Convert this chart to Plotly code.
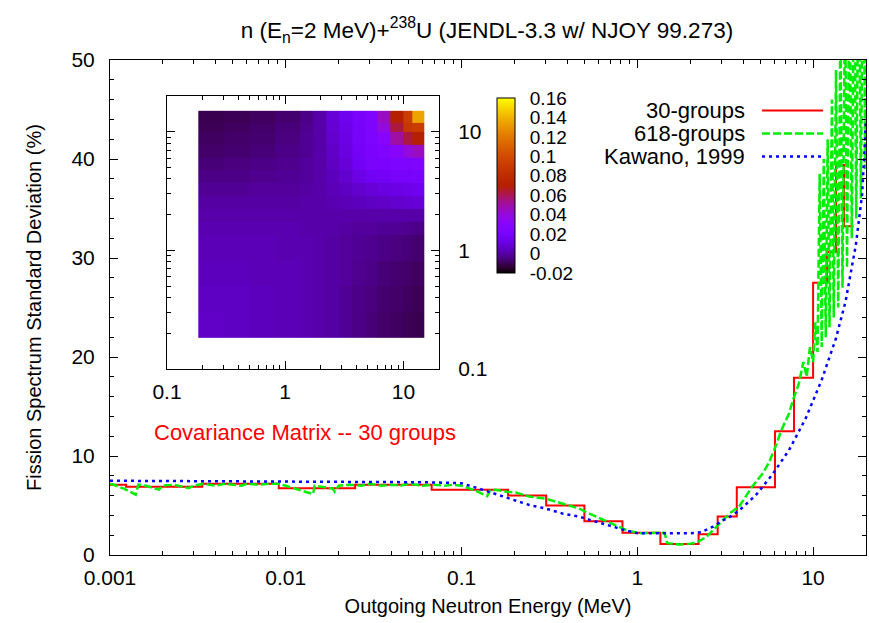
import math
import plotly.graph_objects as go

# ---------------- data ----------------
# 30-group result (group boundaries in MeV, value per group in %)
red_edges = [0.000454, 0.001235, 0.00335, 0.00912, 0.0248, 0.0676, 0.184, 0.303, 0.5, 0.823,
             1.353, 1.738, 2.232, 2.865, 3.68, 6.07, 7.79, 10.0, 12.0, 13.5, 15.0, 17.0]
red_values = [7.1, 6.9, 7.2, 6.75, 7.1, 6.6, 6.0, 5.0, 3.4, 2.25,
              1.1, 1.1, 2.1, 3.9, 6.85, 12.5, 17.9, 27.5, 30.6, 39.4, 33.2]

# 618-group result
green_e = [0.001, 0.00105, 0.0012, 0.0014, 0.00145, 0.0016, 0.0018, 0.0019, 0.002, 0.0023,
           0.0026, 0.0028, 0.003, 0.0034, 0.004, 0.0045, 0.005, 0.0056, 0.006, 0.007,
           0.008, 0.009, 0.01, 0.012, 0.0143, 0.0146, 0.016, 0.0185, 0.019, 0.02,
           0.023, 0.027, 0.03, 0.035, 0.04, 0.045, 0.05, 0.06, 0.07, 0.08,
           0.09, 0.1, 0.12, 0.14, 0.145, 0.155, 0.18, 0.205, 0.243, 0.3,
           0.373, 0.466, 0.53, 0.58, 0.72, 0.87, 1.03, 1.2, 1.43, 1.48,
           1.74, 2.0, 2.17, 2.48, 2.7, 3.06, 3.35, 3.8, 4.5, 5.1,
           5.6, 6.1, 6.6, 7.3, 7.7, 8.3, 8.8, 9.2, 9.6, 10.0,
           10.3, 10.6, 10.9, 11.2, 11.5, 11.8, 12.1, 12.4, 12.8, 13.1,
           13.5, 13.9, 14.3, 14.7, 15.2, 15.6, 16.1, 16.6, 17.1, 17.6,
           18.2, 18.7, 19.3, 19.8, 20.0]
green_v = [7.2, 7.1, 6.7, 6.1, 7.1, 7.0, 6.7, 6.6, 7.0, 7.1,
           6.9, 6.75, 7.0, 7.2, 7.0, 7.2, 7.1, 7.0, 7.2, 7.1,
           7.2, 7.2, 7.0, 6.6, 6.15, 7.0, 6.9, 6.7, 6.4, 7.0,
           7.1, 7.0, 7.2, 7.0, 7.1, 7.0, 7.2, 7.0, 7.1, 7.0,
           7.1, 7.0, 6.5, 5.95, 6.5, 6.6, 6.4, 6.3, 5.9, 5.7,
           5.2, 4.7, 4.2, 3.9, 3.2, 2.5, 2.2, 2.2, 2.25, 1.2,
           1.05, 1.15, 1.25, 1.85, 2.5, 3.5, 4.2, 4.9, 6.9, 8.1,
           9.3, 10.9, 12.6, 14.3, 15.7, 17.3, 19.5, 18.0, 21.0, 19.5,
           23.5, 20.5, 38.5, 21.0, 40.0, 22.0, 42.0, 23.0, 46.0, 24.0,
           49.0, 25.0, 54.0, 27.0, 57.0, 29.0, 60.0, 32.0, 62.0, 34.0,
           65.0, 36.0, 67.0, 39.0, 62.0]

# Kawano, 1999
blue_e = [0.001, 0.01, 0.03, 0.06, 0.08, 0.1, 0.126, 0.164, 0.195, 0.243,
          0.3, 0.374, 0.466, 0.58, 0.72, 0.87, 1.0, 1.5, 2.0, 2.3,
          2.7, 3.0, 3.4, 3.8, 4.73, 5.85, 7.3, 9.08, 11.2, 13.5,
          15.3, 17.5, 19.0, 19.5, 20.0]
blue_v = [7.5, 7.45, 7.4, 7.35, 7.3, 7.25, 6.7, 6.06, 5.6, 5.05,
          4.7, 4.2, 3.87, 3.37, 2.86, 2.46, 2.2, 2.2, 2.2, 2.3,
          2.86, 3.4, 3.9, 4.5, 6.06, 8.1, 10.6, 13.8, 17.7, 21.9,
          25.6, 31.3, 36.4, 40.0, 44.0]

# covariance matrix (inset), cell edges in MeV
cov_edges = [0.184, 0.303, 0.5, 0.823, 1.353, 1.738, 2.232, 2.865, 3.68, 4.8,
             6.07, 7.79, 10.0, 12.0, 15.0]
cov = [
    [0.006, 0.005, 0.004, 0.003, 0.002, 0.001, 0.000, -0.002, -0.004, -0.006, -0.008, -0.009, -0.010, -0.011],
    [0.005, 0.005, 0.004, 0.003, 0.002, 0.001, 0.000, -0.002, -0.004, -0.005, -0.007, -0.008, -0.009, -0.010],
    [0.004, 0.004, 0.003, 0.003, 0.002, 0.001, 0.000, -0.001, -0.003, -0.004, -0.006, -0.007, -0.008, -0.009],
    [0.003, 0.003, 0.003, 0.002, 0.002, 0.001, 0.000, -0.001, -0.002, -0.003, -0.004, -0.005, -0.006, -0.007],
    [0.002, 0.002, 0.002, 0.002, 0.001, 0.001, 0.001, 0.000, -0.001, -0.001, -0.002, -0.002, -0.003, -0.004],
    [0.001, 0.001, 0.001, 0.001, 0.001, 0.001, 0.001, 0.001, 0.001, 0.001, 0.001, 0.001, 0.001, 0.001],
    [0.000, 0.000, 0.000, 0.000, 0.001, 0.001, 0.002, 0.003, 0.004, 0.005, 0.006, 0.007, 0.008, 0.009],
    [-0.002, -0.002, -0.001, -0.001, 0.000, 0.001, 0.003, 0.005, 0.007, 0.009, 0.011, 0.012, 0.013, 0.015],
    [-0.004, -0.004, -0.003, -0.002, -0.001, 0.001, 0.004, 0.007, 0.012, 0.016, 0.018, 0.019, 0.020, 0.021],
    [-0.006, -0.005, -0.004, -0.003, -0.001, 0.001, 0.005, 0.009, 0.016, 0.021, 0.022, 0.023, 0.024, 0.025],
    [-0.008, -0.007, -0.006, -0.004, -0.002, 0.001, 0.006, 0.011, 0.018, 0.022, 0.025, 0.030, 0.040, 0.045],
    [-0.009, -0.008, -0.007, -0.005, -0.002, 0.001, 0.007, 0.012, 0.019, 0.023, 0.030, 0.050, 0.063, 0.070],
    [-0.010, -0.009, -0.008, -0.006, -0.003, 0.001, 0.008, 0.013, 0.020, 0.024, 0.040, 0.063, 0.088, 0.092],
    [-0.011, -0.010, -0.009, -0.007, -0.004, 0.001, 0.009, 0.015, 0.021, 0.025, 0.045, 0.070, 0.092, 0.135],
]

x_major = [0.001, 0.01, 0.1, 1, 10]
x_major_text = ["0.001", "0.01", "0.1", "1", "10"]
y_major = [0, 10, 20, 30, 40, 50]
inset_major = [0.1, 1, 10]
inset_major_text = ["0.1", "1", "10"]
cb_vals = [-0.02, 0.0, 0.02, 0.04, 0.06, 0.08, 0.1, 0.12, 0.14, 0.16]
cb_text = ["-0.02", "0", "0.02", "0.04", "0.06", "0.08", "0.1", "0.12", "0.14", "0.16"]

# ---------------- style helpers ----------------
FONT = "Liberation Sans, Arial, sans-serif"
FS = 21
W, H = 869, 623
ML, MR, MT, MB = 110, 3, 60, 68
PW, PH = W - ML - MR, H - MT - MB
CB_TOP, CB_BOT, CB_LEFT, CB_W = 98, 273, 497, 18
CMIN, CMAX = -0.02, 0.16


def px_x(px):
    return (px - ML) / PW


def px_y(py):
    return (H - MB - py) / PH


def gnuplot_pal(n=41):
    stops = []
    for i in range(n):
        t = i / (n - 1)
        r = math.sqrt(t)
        g = t ** 3
        b = max(0.0, min(1.0, math.sin(2 * math.pi * t)))
        stops.append([t, "rgb(%d,%d,%d)" % (round(r * 255), round(g * 255), round(b * 255))])
    return stops


def minor_log(lo_dec, hi_dec):
    vals = []
    for d in range(lo_dec, hi_dec + 1):
        for m in range(2, 10):
            vals.append(m * 10 ** d)
    return vals


fig = go.Figure()

fig.add_trace(go.Scatter(x=red_edges, y=red_values + [red_values[-1]], mode="lines",
                         line=dict(color="#ff0000", width=2, shape="hv"), showlegend=False))
fig.add_trace(go.Scatter(x=green_e, y=green_v, mode="lines",
                         line=dict(color="#00ee00", width=2.5, dash="8px,3px"), showlegend=False))
fig.add_trace(go.Scatter(x=blue_e, y=blue_v, mode="lines",
                         line=dict(color="#0000ff", width=2.5, dash="3px,4px"), showlegend=False))

fig.add_trace(go.Heatmap(
    x=cov_edges, y=cov_edges, z=cov, xaxis="x2", yaxis="y2",
    zmin=CMIN, zmax=CMAX, colorscale=gnuplot_pal(), zsmooth=False,
    colorbar=dict(x=px_x(CB_LEFT), xanchor="left", y=px_y((CB_TOP + CB_BOT) / 2), yanchor="middle",
                  len=(CB_BOT - CB_TOP) / PH, lenmode="fraction", thickness=CB_W,
                  thicknessmode="pixels", outlinewidth=1, outlinecolor="black",
                  tickmode="array", tickvals=cb_vals, ticktext=cb_text,
                  ticks="outside", ticklen=11, tickcolor="rgba(0,0,0,0)",
                  tickfont=dict(family=FONT, size=19, color="black"), xpad=0, ypad=0),
))

axis_common = dict(showline=True, linecolor="black", linewidth=1, mirror="allticks",
                   ticks="inside", tickcolor="black", showgrid=False, zeroline=False,
                   tickfont=dict(family=FONT, size=FS, color="black"))

fig.update_layout(
    width=W, height=H, margin=dict(l=ML, r=MR, t=MT, b=MB),
    paper_bgcolor="white", plot_bgcolor="white", showlegend=False,
    title=dict(text="n (E<sub>n</sub>=2 MeV)+<sup>238</sup>U (JENDL-3.3 w/ NJOY 99.273)",
               x=px_x(487), xref="paper", xanchor="center", y=1 - 30 / H, yanchor="middle",
               font=dict(family=FONT, size=22.5, color="black")),
    xaxis=dict(type="log", range=[-3, math.log10(20)], domain=[0, 1], anchor="y",
               tickmode="array", tickvals=x_major, ticktext=x_major_text, ticklen=8,
               ticklabelstandoff=4,
               minor=dict(tickmode="array", tickvals=minor_log(-3, 1), ticks="inside", ticklen=4,
                          tickcolor="black"),
               title=dict(text="Outgoing Neutron Energy (MeV)", standoff=10,
                          font=dict(family=FONT, size=20, color="black")),
               **axis_common),
    yaxis=dict(range=[0, 50], domain=[0, 1], anchor="x", tickmode="array", tickvals=y_major,
               ticklen=8, ticklabelstandoff=10,
               minor=dict(dtick=2, ticks="inside", ticklen=4, tickcolor="black"),
               title=dict(text="Fission Spectrum Standard Deviation (%)", standoff=24,
                          font=dict(family=FONT, size=20, color="black")),
               **axis_common),
    xaxis2=dict(type="log", range=[-1, math.log10(20)], domain=[px_x(167), px_x(439)], anchor="y2",
                tickmode="array", tickvals=inset_major, ticktext=inset_major_text, ticklen=8,
                minor=dict(tickmode="array", tickvals=minor_log(-1, 1), ticks="inside", ticklen=4,
                           tickcolor="black"),
                ticklabelstandoff=4, **axis_common),
    yaxis2=dict(type="log", range=[-1, math.log10(20)], domain=[px_y(369), px_y(96)], anchor="x2",
                side="right", tickmode="array", tickvals=inset_major, ticktext=inset_major_text,
                ticklen=8, ticklabelstandoff=14,
                minor=dict(tickmode="array", tickvals=minor_log(-1, 1), ticks="inside", ticklen=4,
                           tickcolor="black"),
                **axis_common),
)

# colorbar tick marks drawn inside on both edges (gnuplot style)
for v in cb_vals[1:-1]:
    ypx = CB_BOT - (v - CMIN) / (CMAX - CMIN) * (CB_BOT - CB_TOP)
    for x0 in (CB_LEFT, CB_LEFT + CB_W - 5):
        fig.add_shape(type="line", xref="paper", yref="paper", x0=px_x(x0), x1=px_x(x0 + 5),
                      y0=px_y(ypx), y1=px_y(ypx), line=dict(color="black", width=1))

# legend drawn gnuplot-style (text right-aligned, sample to the right)
legend_items = [("30-groups", "#ff0000", "solid", 2), ("618-groups", "#00ee00", "8px,3px", 2.5),
                ("Kawano, 1999", "#0000ff", "3px,4px", 2.5)]
for i, (name, col, dash, wdt) in enumerate(legend_items):
    ypx = 110.5 + i * 23
    fig.add_annotation(x=px_x(747), y=px_y(ypx), xref="paper", yref="paper", text=name,
                       showarrow=False, xanchor="right", yanchor="middle",
                       font=dict(family=FONT, size=22, color="black"))
    fig.add_shape(type="line", xref="paper", yref="paper", x0=px_x(762), x1=px_x(823),
                  y0=px_y(ypx), y1=px_y(ypx), line=dict(color=col, width=wdt, dash=dash))

fig.add_annotation(x=px_x(305), y=px_y(432), xref="paper", yref="paper",
                   text="Covariance Matrix -- 30 groups", showarrow=False,
                   xanchor="center", yanchor="middle",
                   font=dict(family=FONT, size=22, color="#ff0000"))

fig.write_html("out.html")
